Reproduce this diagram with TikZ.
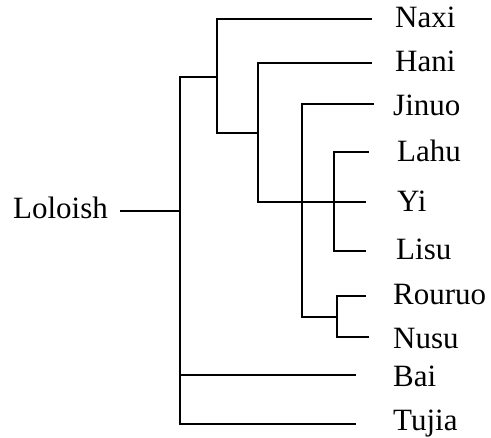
\documentclass[tikz,border=0pt]{standalone}
\usepackage{fontspec}
\setmainfont{Liberation Serif}
\begin{document}
\begin{tikzpicture}[x=1pt,y=-1pt,
  lbl/.style={inner sep=0pt,anchor=base west,font=\fontsize{31}{36}\selectfont},
  br/.style={line width=2.9pt,line cap=rect,line join=miter}]
\useasboundingbox (0,0) rectangle (491,438);
% labels
\node[lbl,anchor=base east] (loloish) at (108,219) {Loloish};
\node[lbl] (naxi) at (395,28) {Naxi};
\node[lbl] (hani) at (395,72) {Hani};
\node[lbl] (jinuo) at (393,116) {Jinuo};
\node[lbl] (lahu) at (397,162) {Lahu};
\node[lbl] (yi) at (397,212) {Yi};
\node[lbl] (lisu) at (396,260) {Lisu};
\node[lbl] (rouruo) at (393,305) {Rouruo};
\node[lbl] (nusu) at (393,349) {Nusu};
\node[lbl] (bai) at (393,387) {Bai};
\node[lbl] (tujia) at (393,431) {Tujia};
% leaf ends
\coordinate (eNaxi) at (371,19);
\coordinate (eHani) at (371,63);
\coordinate (eJinuo) at (373,104);
\coordinate (eLahu) at (368,152);
\coordinate (eYi) at (365,202);
\coordinate (eLisu) at (365,251);
\coordinate (eRouruo) at (365,296);
\coordinate (eNusu) at (368,337);
\coordinate (eBai) at (355,375);
\coordinate (eTujia) at (355,424);
\coordinate (eRoot) at (121,211);
% tree
\draw[br] (eRoot) -- (180,211);
\draw[br] (180,424) -- (180,77);
\draw[br] (eBai) -- (180,375);
\draw[br] (eTujia) -- (180,424);
\draw[br] (180,77) -- (217,77);
\draw[br] (eNaxi) -- (217,19) -- (217,133) -- (258,133);
\draw[br] (eHani) -- (258,63) -- (258,202) -- (eYi);
\draw[br] (eJinuo) -- (302,104) -- (302,317) -- (337,317);
\draw[br] (eLahu) -- (334,152) -- (334,251) -- (eLisu);
\draw[br] (eRouruo) -- (337,296) -- (337,337) -- (eNusu);
\end{tikzpicture}
\end{document}
